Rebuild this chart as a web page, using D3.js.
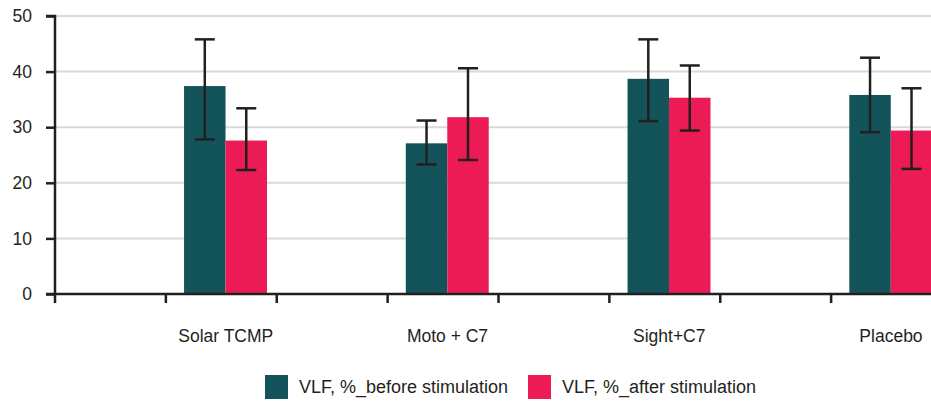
<!DOCTYPE html>
<html><head><meta charset="utf-8">
<script src="https://cdn.jsdelivr.net/npm/d3@7/dist/d3.min.js"></script>
<style>body{margin:0;background:#fff}svg{display:block}text{font-family:"Liberation Sans",Arial,Helvetica,sans-serif;fill:#231f20}</style>
</head><body><svg id="c" width="931" height="401"></svg>
<script>
const categories = ["Solar TCMP", "Moto + C7", "Sight+C7", "Placebo"];
const seriesNames = ["VLF, %_before stimulation", "VLF, %_after stimulation"];
const beforeMean = [37.4, 27.1, 38.7, 35.8];
const beforeHigh = [45.8, 31.2, 45.8, 42.5];
const beforeLow  = [27.8, 23.3, 31.1, 29.1];
const afterMean  = [27.6, 31.8, 35.3, 29.4];
const afterHigh  = [33.4, 40.6, 41.1, 37.0];
const afterLow   = [22.3, 24.1, 29.4, 22.5];
const yTicks = [0, 10, 20, 30, 40, 50];
const colors = ["#13545a", "#ec1a55"];

(function () {
const svg = d3.select("#c");
const W = 931, mLeft = 55, mRight = 942, mTop = 16, mBottom = 294;
const x = d3.scaleBand().domain(categories).range([mLeft, mRight]).padding(0);
const bw = x.bandwidth();
const xs = d3.scaleBand().domain(seriesNames).range([bw * 0.582, bw * 0.956]).padding(0);
const y = d3.scaleLinear().domain([0, 50]).range([mBottom, mTop]);

// gridlines
svg.append("g").selectAll("line").data(yTicks.filter(d => d > 0)).join("line")
  .attr("x1", mLeft).attr("x2", W).attr("y1", d => y(d)).attr("y2", d => y(d))
  .attr("stroke", "#d9d9d9").attr("stroke-width", 2);

// bars
const rows = categories.map((c, i) => [
  {c, s: seriesNames[0], m: beforeMean[i], hi: beforeHigh[i], lo: beforeLow[i], k: 0},
  {c, s: seriesNames[1], m: afterMean[i], hi: afterHigh[i], lo: afterLow[i], k: 1}
]).flat();

svg.append("g").selectAll("rect").data(rows).join("rect")
  .attr("x", d => x(d.c) + xs(d.s)).attr("width", xs.bandwidth())
  .attr("y", d => y(d.m)).attr("height", d => y(0) - y(d.m))
  .attr("fill", d => colors[d.k]);

// error bars
const eb = svg.append("g").attr("stroke", "#231f20").attr("stroke-width", 2.5);
rows.forEach(d => {
  const cx = x(d.c) + xs(d.s) + xs.bandwidth() / 2;
  eb.append("line").attr("x1", cx).attr("x2", cx).attr("y1", y(d.hi)).attr("y2", y(d.lo));
  eb.append("line").attr("x1", cx - 10).attr("x2", cx + 10).attr("y1", y(d.hi)).attr("y2", y(d.hi));
  eb.append("line").attr("x1", cx - 10).attr("x2", cx + 10).attr("y1", y(d.lo)).attr("y2", y(d.lo));
});

// y axis
const ya = svg.append("g").attr("transform", `translate(${mLeft},0)`)
  .call(d3.axisLeft(y).tickValues(yTicks).tickSize(9).tickPadding(14).tickFormat(d3.format("d")));
ya.select(".domain").attr("stroke", "#231f20").attr("stroke-width", 2.5).attr("d", `M-9,${mTop}H0V${mBottom}`);
ya.selectAll(".tick line").attr("stroke", "#231f20").attr("stroke-width", 2.5);
ya.selectAll(".tick text").attr("font-size", 17.5).attr("fill", "#231f20")
  .attr("font-family", "Liberation Sans, Arial, sans-serif");

// x axis
svg.append("line").attr("x1", mLeft - 9).attr("x2", W).attr("y1", mBottom).attr("y2", mBottom)
  .attr("stroke", "#231f20").attr("stroke-width", 2.5);
const xt = [];
categories.forEach(c => { xt.push(x(c)); xt.push(x(c) + bw / 2); });
xt.push(mRight);
svg.append("g").selectAll("line").data(xt).join("line")
  .attr("x1", d => d).attr("x2", d => d).attr("y1", mBottom).attr("y2", mBottom + 9)
  .attr("stroke", "#231f20").attr("stroke-width", 2.5);

svg.append("g").selectAll("text").data(categories).join("text")
  .attr("x", c => x(c) + bw * 0.77).attr("y", 342).attr("text-anchor", "middle")
  .attr("font-size", 17.5).text(c => c);

// legend
const lg = svg.append("g");
const lx = [265, 528];
seriesNames.forEach((s, i) => {
  lg.append("rect").attr("x", lx[i]).attr("y", 375).attr("width", 23).attr("height", 24).attr("fill", colors[i]);
  lg.append("text").attr("x", lx[i] + 34).attr("y", 393).attr("font-size", 18).text(s);
});
})();
</script></body></html>
